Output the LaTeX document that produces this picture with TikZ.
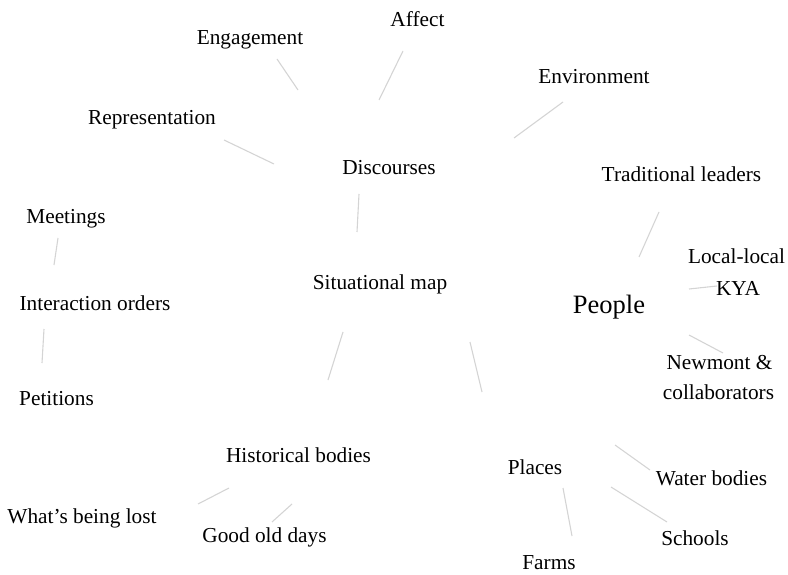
\documentclass[tikz,border=0pt]{standalone}
\usepackage{fontspec}
\setmainfont{Liberation Serif}
\begin{document}
\begin{tikzpicture}[x=1pt,y=-1pt,
  lbl/.style={anchor=base,inner sep=0pt,font=\fontsize{21.3}{25}\selectfont},
  big/.style={anchor=base,inner sep=0pt,font=\fontsize{26.5}{30}\selectfont},
  link/.style={draw=black!17,line width=1.1pt}]
\useasboundingbox (0,0) rectangle (788,575);

% concept labels
\node[lbl] (affect)  at (417.5,27) {Affect};
\node[lbl] (engage)  at (250,45)   {Engagement};
\node[lbl] (environ) at (594,84)   {Environment};
\node[lbl] (repr)    at (152,125)  {Representation};
\node[lbl] (disc)    at (389,175)  {Discourses};
\node[lbl] (trad)    at (681.5,182) {Traditional leaders};
\node[lbl] (meet)    at (66,223)   {Meetings};
\node[lbl] (kya)     at (738,295)  {KYA};
\node[lbl] (local)   at (736.5,264) {Local-local};
\node[lbl] (sit)     at (380,290)  {Situational map};
\node[big] (people)  at (609,313)  {People};
\node[lbl] (inter)   at (95,310)   {Interaction orders};
\node[lbl] (newmont) at (719.5,369) {Newmont \&};
\node[lbl] (collab)  at (718.5,399) {collaborators};
\node[lbl] (petit)   at (56.5,405) {Petitions};
\node[lbl] (hist)    at (298.5,462) {Historical bodies};
\node[lbl] (places)  at (535,474)  {Places};
\node[lbl] (water)   at (711.5,485) {Water bodies};
\node[lbl] (lost)    at (82,523)   {What’s being lost};
\node[lbl] (good)    at (264.5,542) {Good old days};
\node[lbl] (schools) at (695,545)  {Schools};
\node[lbl] (farms)   at (549,569)  {Farms};

% end points of the links
\coordinate (engA) at (277,59);   \coordinate (engB) at (298,90);
\coordinate (affA) at (403,51);   \coordinate (affB) at (379,100);
\coordinate (envA) at (563,102);  \coordinate (envB) at (514,138);
\coordinate (repA) at (224,140);  \coordinate (repB) at (274,164);
\coordinate (dsA)  at (359,194);  \coordinate (dsB)  at (357,232);
\coordinate (trA)  at (659,212);  \coordinate (trB)  at (639,257);
\coordinate (loA)  at (689,289);  \coordinate (loB)  at (717,286);
\coordinate (nwA)  at (689,335);  \coordinate (nwB)  at (723,353);
\coordinate (meA)  at (58,238);   \coordinate (meB)  at (54,265);
\coordinate (peA)  at (44,329);   \coordinate (peB)  at (42,363);
\coordinate (shA)  at (343,332);  \coordinate (shB)  at (328,380);
\coordinate (spA)  at (470,342);  \coordinate (spB)  at (482,392);
\coordinate (hlA)  at (229,488);  \coordinate (hlB)  at (198,504);
\coordinate (hgA)  at (292,504);  \coordinate (hgB)  at (272,522);
\coordinate (pwA)  at (615,445);  \coordinate (pwB)  at (650,470);
\coordinate (psA)  at (611,487);  \coordinate (psB)  at (667,522);
\coordinate (pfA)  at (563,488);  \coordinate (pfB)  at (572,536);

% links
\draw[link] (engA) -- (engB);
\draw[link] (affA) -- (affB);
\draw[link] (envA) -- (envB);
\draw[link] (repA) -- (repB);
\draw[link] (dsA) -- (dsB);
\draw[link] (trA) -- (trB);
\draw[link] (loA) -- (loB);
\draw[link] (nwA) -- (nwB);
\draw[link] (meA) -- (meB);
\draw[link] (peA) -- (peB);
\draw[link] (shA) -- (shB);
\draw[link] (spA) -- (spB);
\draw[link] (hlA) -- (hlB);
\draw[link] (hgA) -- (hgB);
\draw[link] (pwA) -- (pwB);
\draw[link] (psA) -- (psB);
\draw[link] (pfA) -- (pfB);
\end{tikzpicture}
\end{document}
